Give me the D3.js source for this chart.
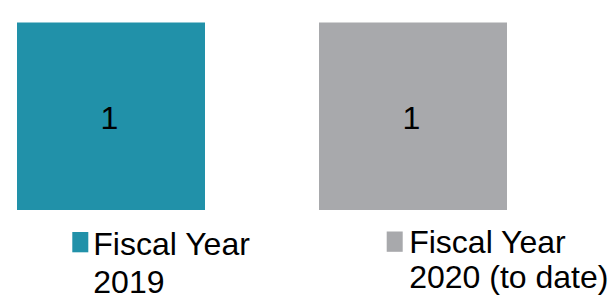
<!DOCTYPE html>
<html>
<head>
<meta charset="utf-8">
<script src="https://cdn.jsdelivr.net/npm/d3@7"></script>
<style>
  html, body { margin: 0; padding: 0; background: #fff; }
  svg { display: block; font-family: "Liberation Sans", Arial, sans-serif; }
</style>
</head>
<body>
<svg id="chart" width="613" height="297"></svg>
<script>
// data
const categories = ["Fiscal Year 2019", "Fiscal Year 2020 (to date)"];
const values = [1, 1];
const legendLines = [["Fiscal Year", "2019"], ["Fiscal Year", "2020 (to date)"]];
const colors = ["#2191a9", "#a8a9ac"];

const data = categories.map((c, i) => ({ cat: c, value: values[i], lines: legendLines[i], color: colors[i] }));

const svg = d3.select("#chart");

// scales
const x = d3.scaleBand()
    .domain(categories)
    .range([17, 507])
    .paddingInner(0.3775)
    .paddingOuter(0);

const y = d3.scaleLinear()
    .domain([0, 1])
    .range([210, 22.5]);

// bars
svg.selectAll("rect.bar")
    .data(data)
    .enter()
    .append("rect")
    .attr("class", "bar")
    .attr("x", d => x(d.cat))
    .attr("y", d => y(d.value))
    .attr("width", x.bandwidth())
    .attr("height", d => y(0) - y(d.value))
    .attr("fill", d => d.color);

// value labels
svg.selectAll("text.val")
    .data(data)
    .enter()
    .append("text")
    .attr("class", "val")
    .attr("x", d => x(d.cat) + x.bandwidth() / 2 - 1.5)
    .attr("y", d => (y(d.value) + y(0)) / 2 + 12.5)
    .attr("text-anchor", "middle")
    .attr("font-size", 32)
    .attr("fill", "#000")
    .text(d => d.value);

// legend under each bar (offsets from the bar's left edge)
const legendLayout = [
    { dx: 55.3, base: 255.3, markTop: 232, textDx: 21, lineH: 37.4 },
    { dx: 67.7, base: 252.7, markTop: 231.5, textDx: 22.5, lineH: 35.5 }
];

const leg = svg.selectAll("g.legend")
    .data(data)
    .enter()
    .append("g")
    .attr("class", "legend")
    .attr("transform", (d, i) => `translate(${x(d.cat) + legendLayout[i].dx},0)`);

leg.append("rect")
    .attr("x", 0)
    .attr("y", (d, i) => legendLayout[i].markTop)
    .attr("width", 16)
    .attr("height", 20.3)
    .attr("fill", d => d.color);

leg.append("text")
    .attr("y", (d, i) => legendLayout[i].base)
    .attr("font-size", 32)
    .attr("fill", "#000")
    .each(function (d, i) {
        const L = legendLayout[i];
        d3.select(this).selectAll("tspan")
            .data(d.lines)
            .enter()
            .append("tspan")
            .attr("x", L.textDx)
            .attr("dy", (t, j) => j === 0 ? 0 : L.lineH)
            .text(t => t);
    });
</script>
</body>
</html>
